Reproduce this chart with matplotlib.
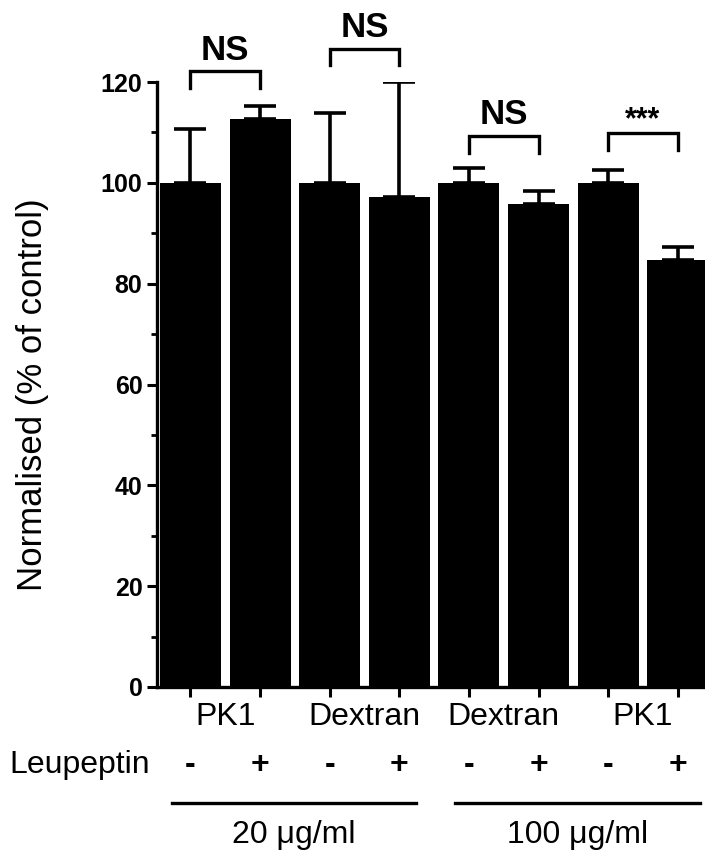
import matplotlib
matplotlib.use("Agg")
import matplotlib.pyplot as plt
from matplotlib import font_manager
from matplotlib.transforms import blended_transform_factory

# Data
conditions = ["PK1", "PK1", "Dextran", "Dextran", "Dextran", "Dextran", "PK1", "PK1"]
leupeptin = ["-", "+", "-", "+", "-", "+", "-", "+"]
means = [100.0, 112.7, 100.0, 97.1, 100.0, 95.9, 100.0, 84.6]
sem_upper = [10.7, 2.5, 13.9, 22.9, 2.9, 2.4, 2.5, 2.6]
pair_labels = ["PK1", "Dextran", "Dextran", "PK1"]
significance = ["NS", "NS", "NS", "***"]
bracket_tops = [122.2, 126.6, 109.3, 109.9]
text_y = [126.2, 130.9, 113.6, 112.4]
doses = ["20 \u03bcg/ml", "100 \u03bcg/ml"]
y_ticks = [0, 20, 40, 60, 80, 100, 120]

available = {f.name for f in font_manager.fontManager.ttflist}
narrow = "Liberation Sans Narrow" if "Liberation Sans Narrow" in available else "Liberation Sans"
label_size = 28 if narrow == "Liberation Sans Narrow" else 23

plt.rcParams["font.family"] = ["Liberation Sans", "DejaVu Sans"]

fig = plt.figure(figsize=(7.05, 8.6), dpi=100)
ax = fig.add_axes([157 / 705, 1 - 687 / 860, 1 - 157 / 705, (687 - 82) / 860])

x = list(range(len(means)))
ax.bar(x, means, width=0.876, color="black", edgecolor="black", linewidth=0, zorder=2)
ax.errorbar(x, means, yerr=[[0] * len(means), sem_upper], fmt="none",
            ecolor="black", elinewidth=2.6, capsize=11.5, capthick=2.6, zorder=1)

ax.set_xlim(-0.48, 7.39)
ax.set_ylim(0, 120)
ax.spines["top"].set_visible(False)
ax.spines["right"].set_visible(False)
for s in ("left", "bottom"):
    ax.spines[s].set_linewidth(2.4)

ax.set_xticks(x)
ax.set_xticklabels([])
ax.tick_params(axis="x", direction="out", length=7, width=2.2)
ax.set_yticks(y_ticks)
ax.set_yticks([10, 30, 50, 70, 90, 110], minor=True)
ax.tick_params(axis="y", which="major", direction="out", length=7, width=2.2, pad=3.5)
ax.tick_params(axis="y", which="minor", direction="out", length=4.5, width=2.0)
for lbl in ax.get_yticklabels():
    lbl.set_fontweight("bold")
    lbl.set_fontsize(18)

# Significance brackets between each pair
for i in range(4):
    x0, x1 = 2 * i, 2 * i + 1
    top = bracket_tops[i]
    ax.plot([x0, x0, x1, x1], [top - 3.3, top, top, top - 3.3], color="black",
            lw=2.4, clip_on=False, solid_joinstyle="miter")
    fs = 25 if significance[i] == "NS" else 22
    ax.text((x0 + x1) / 2, text_y[i], significance[i], ha="center", va="center",
            fontsize=fs, fontweight="bold", clip_on=False)

# Category labels below the axis
trans = blended_transform_factory(ax.transData, fig.transFigure)
for i, name in enumerate(pair_labels):
    fig.text(2 * i + 0.5, 1 - 717 / 860, name, transform=trans, ha="center", va="center",
             fontsize=label_size, family=[narrow, "DejaVu Sans"])

fig.text(150 / 705, 1 - 765 / 860, "Leupeptin", ha="right", va="center",
         fontsize=label_size, family=[narrow, "DejaVu Sans"])
for xi, sign in zip(x, leupeptin):
    fig.text(xi, 1 - 765 / 860, sign, transform=trans, ha="center", va="center",
             fontsize=label_size, fontweight="bold", family=[narrow, "DejaVu Sans"])

# Dose group lines and labels
group_spans = [(-0.266, 3.24), (3.80, 7.32)]
for (a, b), dose in zip(group_spans, doses):
    ax.plot([a, b], [1 - 803 / 860] * 2, color="black", lw=2.4, transform=trans, clip_on=False)
    fig.text((a + b) / 2, 1 - 835 / 860, dose, transform=trans, ha="center", va="center",
             fontsize=label_size, family=[narrow, "DejaVu Sans"])

fig.text(33 / 705, 1 - 395 / 860, "Normalised (% of control)", rotation=90,
         ha="center", va="center", fontsize=25)

fig.savefig("out.png", dpi=100)
